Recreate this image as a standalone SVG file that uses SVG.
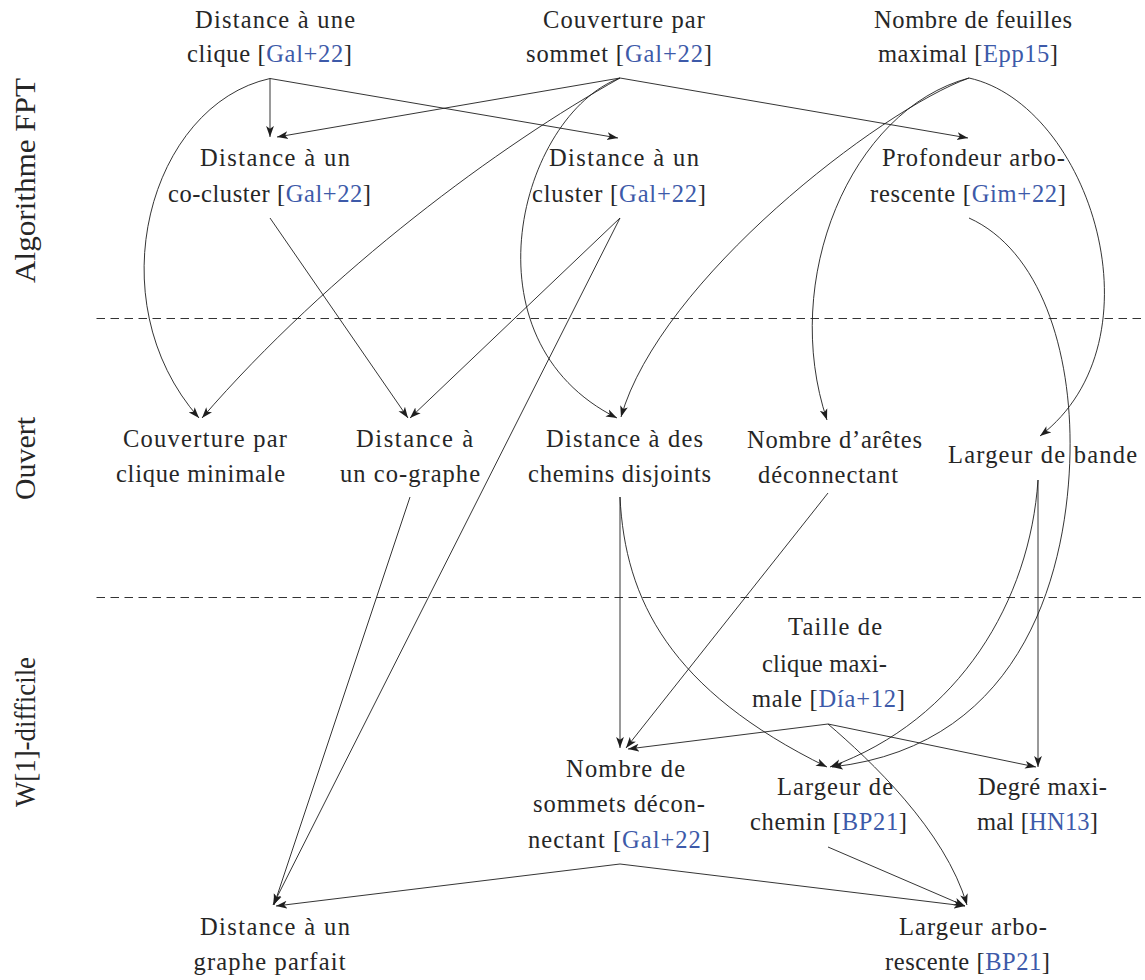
<svg xmlns="http://www.w3.org/2000/svg" width="1145" height="980" viewBox="0 0 1145 980">
<style>
.n{font-size:24.5px;text-anchor:middle;fill:#262626}
.c{fill:#3d5aa9}
.sec{font-size:29px;text-anchor:middle;fill:#262626}
.e{fill:none;stroke:#1e1e1e;stroke-width:0.9;marker-end:url(#ah)}
.d{fill:none;stroke:#333;stroke-width:1;stroke-dasharray:8.5 5.5}
</style>
<defs>
<marker id="ah" markerUnits="userSpaceOnUse" markerWidth="12" markerHeight="9" refX="11" refY="4.5" orient="auto">
<path d="M0,0.6 L11,4.5 L0,8.4 L2.8,4.5 Z" fill="#1e1e1e"/>
</marker>
</defs>
<rect width="1145" height="980" fill="#fff"/>

<g id="sections" font-family="Liberation Serif">
<text class="sec" transform="translate(35,180.5) rotate(-90)" textLength="205" lengthAdjust="spacingAndGlyphs">Algorithme FPT</text>
<text class="sec" transform="translate(35,458.5) rotate(-90)" textLength="83" lengthAdjust="spacingAndGlyphs">Ouvert</text>
<text class="sec" transform="translate(35,732) rotate(-90)" textLength="150" lengthAdjust="spacingAndGlyphs">W[1]-difficile</text>
</g>

<g id="separators">
<line class="d" x1="96.5" y1="318.5" x2="1145" y2="318.5"/>
<line class="d" x1="96.5" y1="597.5" x2="1145" y2="597.5"/>
</g>

<g id="edges">
<path class="e" d="M270,78.5 L270,137"/>
<path class="e" d="M270,78.5 L618,138"/>
<path class="e" d="M270,78.5 C150,105 95,300 199,418"/>
<path class="e" d="M620,78 L277,137"/>
<path class="e" d="M620,78 L968,138"/>
<path class="e" d="M620,78 C500,145 330,270 202,418"/>
<path class="e" d="M620,78 C520,115 460,340 617,418"/>
<path class="e" d="M969,78 C880,110 660,280 621,417"/>
<path class="e" d="M969,78 C850,110 780,280 827,420"/>
<path class="e" d="M969,78 C1090,105 1165,340 1040,436"/>
<path class="e" d="M969,218 C1040,250 1072,350 1070,453 C1068,560 1030,745 832,767"/>
<path class="e" d="M1038,480 C1030,600 960,720 830,767"/>
<path class="e" d="M1038,480 L1038,767"/>
<path class="e" d="M620,218 L410,418"/>
<path class="e" d="M270,218 L408,418"/>
<path class="e" d="M620,218 L273,905"/>
<path class="e" d="M410,497 L274,905"/>
<path class="e" d="M620,497 L620,748"/>
<path class="e" d="M620,497 C625,600 670,690 827,767"/>
<path class="e" d="M828,493 L626,748"/>
<path class="e" d="M828,724 L628,749"/>
<path class="e" d="M828,724 L1036,767"/>
<path class="e" d="M828,724 C870,760 945,830 967,905"/>
<path class="e" d="M620,864 L276,906"/>
<path class="e" d="M620,864 L965,906"/>
<path class="e" d="M828,847 L965,906"/>
</g>

<g id="nodes" font-family="Liberation Serif">
<g id="n-clique">
<text class="n" x="275" y="27.5" textLength="160">Distance à une</text>
<text class="n" x="269.5" y="62" textLength="165">clique [<tspan class="c">Gal+22</tspan>]</text>
</g>
<g id="n-sommet">
<text class="n" x="624" y="27.5" textLength="162">Couverture par</text>
<text class="n" x="619" y="62" textLength="186">sommet [<tspan class="c">Gal+22</tspan>]</text>
</g>
<g id="n-feuilles">
<text class="n" x="973" y="27.5" textLength="198">Nombre de feuilles</text>
<text class="n" x="968" y="62" textLength="180">maximal [<tspan class="c">Epp15</tspan>]</text>
</g>
<g id="n-cocluster">
<text class="n" x="275" y="166" textLength="150">Distance à un</text>
<text class="n" x="269.5" y="201.5" textLength="203">co-cluster [<tspan class="c">Gal+22</tspan>]</text>
</g>
<g id="n-cluster">
<text class="n" x="624" y="166" textLength="150">Distance à un</text>
<text class="n" x="619" y="201.5" textLength="174">cluster [<tspan class="c">Gal+22</tspan>]</text>
</g>
<g id="n-profondeur">
<text class="n" x="973.5" y="166" textLength="183">Profondeur arbo-</text>
<text class="n" x="968" y="201.5" textLength="196">rescente [<tspan class="c">Gim+22</tspan>]</text>
</g>
<g id="n-cliquemin">
<text class="n" x="205" y="447" textLength="164">Couverture par</text>
<text class="n" x="200.5" y="482" textLength="169">clique minimale</text>
</g>
<g id="n-cographe">
<text class="n" x="414.5" y="447" textLength="117">Distance à</text>
<text class="n" x="410" y="482" textLength="140">un co-graphe</text>
</g>
<g id="n-chemins">
<text class="n" x="624.5" y="447" textLength="157">Distance à des</text>
<text class="n" x="619.5" y="482" textLength="183">chemins disjoints</text>
</g>
<g id="n-aretes">
<text class="n" x="834.5" y="448" textLength="175">Nombre d’arêtes</text>
<text class="n" x="828" y="483" textLength="140">déconnectant</text>
</g>
<g id="n-bande">
<text class="n" x="1042.5" y="463" textLength="189">Largeur de bande</text>
</g>
<g id="n-taille">
<text class="n" x="835" y="635" textLength="94">Taille de</text>
<text class="n" x="824.5" y="672" textLength="125">clique maxi-</text>
<text class="n" x="828.5" y="707" textLength="153">male [<tspan class="c">Día+12</tspan>]</text>
</g>
<g id="n-sommets">
<text class="n" x="625.5" y="777" textLength="119">Nombre de</text>
<text class="n" x="619" y="812" textLength="172">sommets décon-</text>
<text class="n" x="619" y="848" textLength="182">nectant [<tspan class="c">Gal+22</tspan>]</text>
</g>
<g id="n-chemin">
<text class="n" x="835" y="795" textLength="116">Largeur de</text>
<text class="n" x="828.5" y="830" textLength="157">chemin [<tspan class="c">BP21</tspan>]</text>
</g>
<g id="n-degre">
<text class="n" x="1042.5" y="795" textLength="129">Degré maxi-</text>
<text class="n" x="1037.5" y="830" textLength="121">mal [<tspan class="c">HN13</tspan>]</text>
</g>
<g id="n-parfait">
<text class="n" x="275" y="935" textLength="150">Distance à un</text>
<text class="n" x="269.5" y="970" textLength="152">graphe parfait</text>
</g>
<g id="n-arbo">
<text class="n" x="973" y="935" textLength="148">Largeur arbo-</text>
<text class="n" x="967.5" y="970" textLength="165">rescente [<tspan class="c">BP21</tspan>]</text>
</g>
</g>
</svg>
